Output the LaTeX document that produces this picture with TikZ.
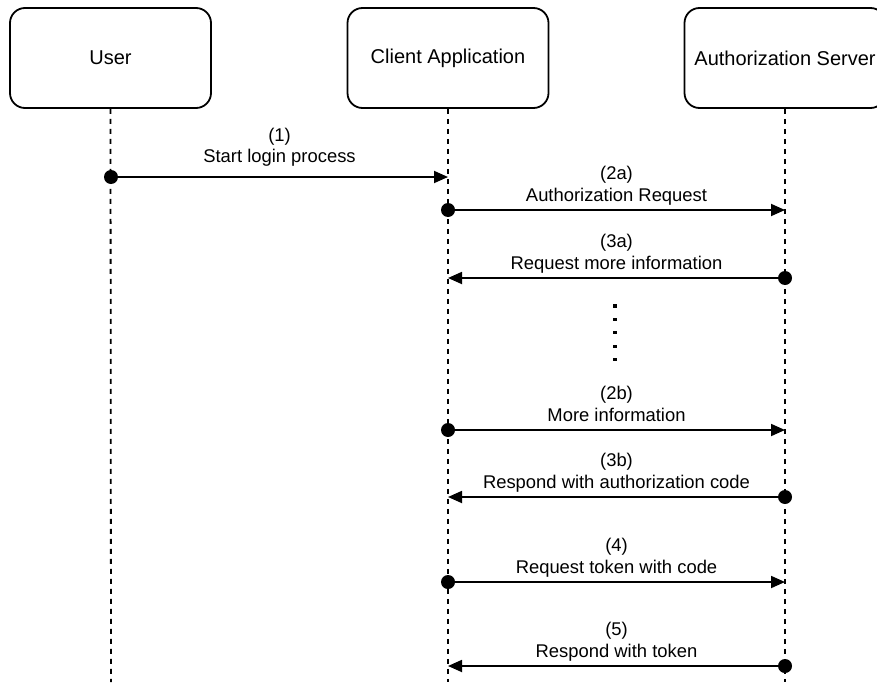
\documentclass[tikz,border=0pt]{standalone}
\usepackage{fontspec}
\setmainfont{Liberation Sans}
\usetikzlibrary{arrows.meta}
\begin{document}
\begin{tikzpicture}[x=1pt, y=-1pt,
  actor/.style={draw, line width=1.8pt, rounded corners=15pt,
    minimum width=201pt, minimum height=100pt, inner sep=0pt,
    font=\fontsize{20}{24}\selectfont},
  lifeline/.style={line width=1.8pt, dash pattern=on 5pt off 5pt},
  dot/.style={circle, fill, inner sep=0pt, minimum size=14pt},
  msg/.style={line width=1.8pt, -{Triangle[length=14pt, width=12pt]}},
  lbl/.style={align=center, inner sep=0pt, font=\fontsize{18.4}{21.5}\selectfont},
  pause/.style={fill},
]
\useasboundingbox (0,0) rectangle (877,682);

% participants
\node[actor] (user)   at (110.5,58) {User};
\node[actor] (client) at (448,58)   {Client Application};
\node[actor] (auth)   at (785,58)   {Authorization Server};

% lifelines
\coordinate (userEnd)   at (111,682);
\coordinate (clientEnd) at (448,682);
\coordinate (authEnd)   at (785,682);
\draw[lifeline] (user.south)   -- (userEnd);
\draw[lifeline] (client.south) -- (clientEnd);
\draw[lifeline] (auth.south)   -- (authEnd);

% (1) user -> client
\node[dot] (m1a) at (111,177) {};
\coordinate (m1b) at (448,177);
\draw[msg] (m1a.center) -- node[lbl, above=7pt] (t1) {(1)\\Start login process\strut} (m1b);

% (2a) client -> server
\node[dot] (m2a) at (448,210) {};
\coordinate (m2b) at (785,210);
\draw[msg] (m2a.center) -- node[lbl, above=1.5pt] (t2) {(2a)\\Authorization Request\strut} (m2b);

% (3a) server -> client
\node[dot] (m3a) at (785,278) {};
\coordinate (m3b) at (448,278);
\draw[msg] (m3a.center) -- node[lbl, above=1.5pt] (t3) {(3a)\\Request more information\strut} (m3b);

% repeated exchanges
\foreach \k in {0,...,4}
  \fill[pause] (613.3,304.3+13.4*\k) rectangle ++(3.2,3.2);

% (2b) client -> server
\node[dot] (m4a) at (448,430) {};
\coordinate (m4b) at (785,430);
\draw[msg] (m4a.center) -- node[lbl, above=1.5pt] (t4) {(2b)\\More information\strut} (m4b);

% (3b) server -> client
\node[dot] (m5a) at (785,497) {};
\coordinate (m5b) at (448,497);
\draw[msg] (m5a.center) -- node[lbl, above=1.5pt] (t5) {(3b)\\Respond with authorization code\strut} (m5b);

% (4) client -> server
\node[dot] (m6a) at (448,582) {};
\coordinate (m6b) at (785,582);
\draw[msg] (m6a.center) -- node[lbl, above=1.5pt] (t6) {(4)\\Request token with code\strut} (m6b);

% (5) server -> client
\node[dot] (m7a) at (785,666) {};
\coordinate (m7b) at (448,666);
\draw[msg] (m7a.center) -- node[lbl, above=1.5pt] (t7) {(5)\\Respond with token\strut} (m7b);
\end{tikzpicture}
\end{document}
